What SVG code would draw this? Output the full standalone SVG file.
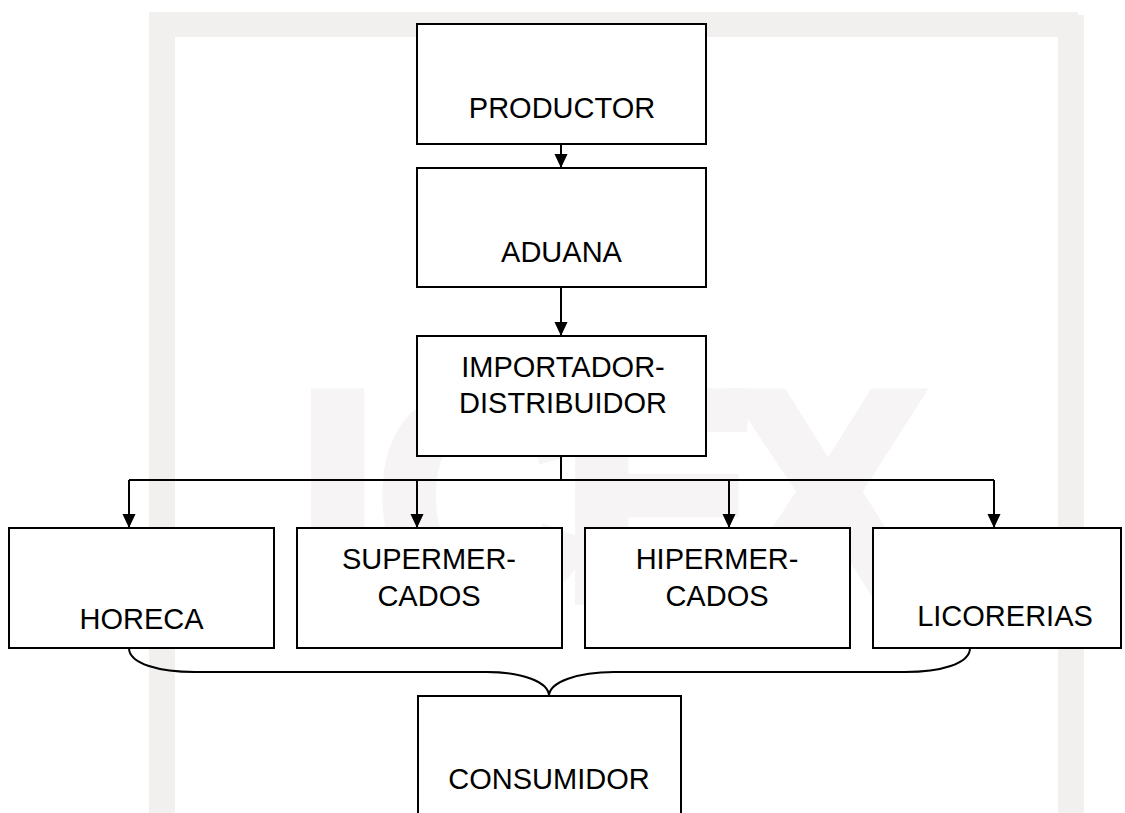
<svg xmlns="http://www.w3.org/2000/svg" width="1125" height="813" viewBox="0 0 1125 813">
  <defs>
    <style>
      .box { fill: #ffffff; stroke: #000000; stroke-width: 2; }
      .lbl { font-family: "Liberation Sans", Arial, sans-serif; font-size: 29px; fill: #000000; text-anchor: middle; }
      .con { fill: none; stroke: #000000; stroke-width: 2; }
      .wm { fill: #f2efef; }
      .wmtext { font-family: "Liberation Sans", Arial, sans-serif; font-weight: bold; font-size: 300px; fill: #f6f4f4; stroke: #f6f4f4; stroke-width: 10; }
    </style>
    <marker id="arrow" viewBox="0 0 14 15" refX="14" refY="7" markerWidth="15" markerHeight="14" markerUnits="userSpaceOnUse" orient="auto">
      <path d="M0,0 L15,7 L0,14 Z" fill="#000000"/>
    </marker>
  </defs>
  <rect width="1125" height="813" fill="#ffffff"/>
  <g id="watermark">
    <rect class="wm" x="149" y="12" width="929" height="25"/>
    <rect class="wm" x="149" y="12" width="26" height="801"/>
    <rect class="wm" x="1058" y="15" width="26" height="798"/>
    <text class="wmtext" x="296 375 560 728" y="600">ICEX</text>
  </g>
  <g id="connectors">
    <line class="con" x1="561" y1="144" x2="561" y2="167" marker-end="url(#arrow)"/>
    <line class="con" x1="561" y1="287" x2="561" y2="335" marker-end="url(#arrow)"/>
    <polyline class="con" points="561,456 561,480"/>
    <polyline class="con" points="129,480 994,480"/>
    <line class="con" x1="129" y1="480" x2="129" y2="527" marker-end="url(#arrow)"/>
    <line class="con" x1="417" y1="480" x2="417" y2="527" marker-end="url(#arrow)"/>
    <line class="con" x1="729" y1="480" x2="729" y2="527" marker-end="url(#arrow)"/>
    <line class="con" x1="994" y1="480" x2="994" y2="527" marker-end="url(#arrow)"/>
    <path class="con" d="M129,648 C129,664 160,672 195,672 L487,672 C522,672 549,682 549,696 C549,682 578,672 614,672 L905,672 C940,672 970,664 970,648"/>
  </g>
  <g id="productor">
    <rect class="box" x="417" y="24" width="289" height="120"/>
    <text class="lbl" x="562" y="118">PRODUCTOR</text>
  </g>
  <g id="aduana">
    <rect class="box" x="417" y="168" width="289" height="119"/>
    <text class="lbl" x="561.5" y="262">ADUANA</text>
  </g>
  <g id="importador">
    <rect class="box" x="417" y="336" width="289" height="120"/>
    <text class="lbl" x="563" y="377">IMPORTADOR-</text>
    <text class="lbl" x="563" y="413">DISTRIBUIDOR</text>
  </g>
  <g id="horeca">
    <rect class="box" x="9" y="528" width="265" height="120"/>
    <text class="lbl" x="141.5" y="629">HORECA</text>
  </g>
  <g id="supermercados">
    <rect class="box" x="297" y="528" width="265" height="120"/>
    <text class="lbl" x="429" y="569">SUPERMER-</text>
    <text class="lbl" x="429" y="606">CADOS</text>
  </g>
  <g id="hipermercados">
    <rect class="box" x="585" y="528" width="265" height="120"/>
    <text class="lbl" x="717" y="569">HIPERMER-</text>
    <text class="lbl" x="717" y="606">CADOS</text>
  </g>
  <g id="licorerias">
    <rect class="box" x="873" y="528" width="248" height="120"/>
    <text class="lbl" x="1005" y="626">LICORERIAS</text>
  </g>
  <g id="consumidor">
    <rect class="box" x="418" y="696" width="263" height="130"/>
    <text class="lbl" x="549" y="789">CONSUMIDOR</text>
  </g>
</svg>
